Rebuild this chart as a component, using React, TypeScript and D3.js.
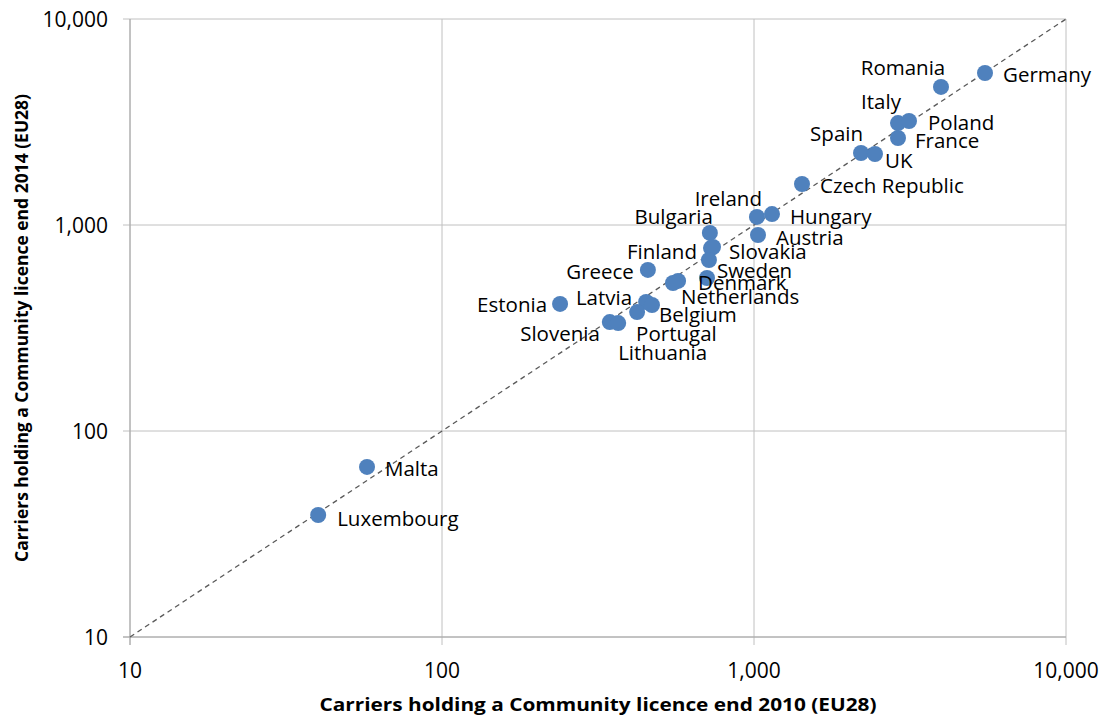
import React from "react";
import * as d3 from "d3";

// Carriers holding a Community licence, EU28 member states
const countries = [
  "Germany", "Romania", "Italy", "Poland", "France", "Spain", "UK",
  "Czech Republic", "Hungary", "Ireland", "Austria", "Bulgaria", "Finland",
  "Slovakia", "Sweden", "Denmark", "Netherlands", "Croatia", "Greece",
  "Estonia", "Latvia", "Belgium", "Portugal", "Slovenia", "Lithuania",
  "Malta", "Luxembourg",
];
const carriers2010 = [
  5500, 3975, 2894, 3139, 2894, 2203, 2442,
  1425, 1142, 1022, 1030, 722, 728,
  739, 717, 707, 571, 550, 457,
  239, 451, 471, 422, 345, 367,
  57.5, 40.1,
];
const carriers2014 = [
  5470, 4680, 3126, 3198, 2645, 2237, 2212,
  1581, 1130, 1094, 894, 915, 773,
  782, 676, 553, 535, 523, 605,
  414, 423, 409, 378, 338, 334,
  66.9, 39.1,
];
const tickValues = [10, 100, 1000, 10000];

// Label placement around each marker: [dx, dy, text-anchor]; Croatia stays unlabelled
const labelPlacement: Record<string, [number, number, string]> = {
  Germany: [18, 1, "start"],
  Romania: [-38, -20, "middle"],
  Italy: [-17, -22, "middle"],
  Poland: [19, 1, "start"],
  France: [17, 2, "start"],
  Spain: [2, -20, "end"],
  UK: [10, 6, "start"],
  "Czech Republic": [18, 1, "start"],
  Hungary: [18, 2, "start"],
  Ireland: [5, -19, "end"],
  Austria: [18, 2, "start"],
  Bulgaria: [3, -17, "end"],
  Finland: [-14, 3, "end"],
  Slovakia: [16, 4, "start"],
  Sweden: [8, 10, "start"],
  Denmark: [-9, 4, "start"],
  Netherlands: [3, 15, "start"],
  Greece: [-14, 1, "end"],
  Estonia: [-13, 0, "end"],
  Latvia: [-14, -5, "end"],
  Belgium: [7, 9, "start"],
  Portugal: [-1, 21, "start"],
  Slovenia: [-10, 11, "end"],
  Lithuania: [0, 29, "start"],
  Malta: [18, 1, "start"],
  Luxembourg: [19, 3, "start"],
};

const W = 1109;
const H = 719;
const left = 130, right = 1066, top = 19, bottom = 637;
const font = "'Open Sans', 'DejaVu Sans', sans-serif";

export default function App() {
  const x = d3.scaleLog().domain([10, 10000]).range([left, right]);
  const y = d3.scaleLog().domain([10, 10000]).range([bottom, top]);
  const fmt = d3.format(",");
  const points = countries.map((c, i) => ({
    name: c,
    cx: x(carriers2010[i]),
    cy: y(carriers2014[i]),
  }));
  const diag = d3.line<number>().x((v) => x(v)).y((v) => y(v))([10, 10000]) || "";

  return (
    <svg
      width={W}
      height={H}
      style={{ position: "absolute", left: 0, top: 0, background: "#fff" }}
      fontFamily={font}
    >
      {/* gridlines */}
      {tickValues.map((t) => (
        <g key={"g" + t}>
          <line x1={x(t)} x2={x(t)} y1={top} y2={bottom + 8} stroke="#c0c0c0" strokeWidth={1} />
          <line x1={left - 7} x2={right} y1={y(t)} y2={y(t)} stroke="#c0c0c0" strokeWidth={1} />
        </g>
      ))}
      {/* axes */}
      <line x1={left} x2={left} y1={top} y2={bottom + 8} stroke="#a6a6a6" strokeWidth={1} />
      <line x1={left - 7} x2={right} y1={bottom} y2={bottom} stroke="#a6a6a6" strokeWidth={1} />

      {/* tick labels */}
      {tickValues.map((t) => (
        <text key={"xt" + t} x={x(t)} y={670} textAnchor="middle" dominantBaseline="central"
          fontSize={21} fill="#000">{fmt(t)}</text>
      ))}
      {tickValues.map((t) => (
        <text key={"yt" + t} x={108} y={y(t)} textAnchor="end" dominantBaseline="central"
          fontSize={21} fill="#000">{fmt(t)}</text>
      ))}

      {/* equality line */}
      <path d={diag} stroke="#595959" strokeWidth={1.3} strokeDasharray="5,4" fill="none" />

      {/* markers */}
      {points.map((p) => (
        <circle key={p.name} cx={p.cx} cy={p.cy} r={8} fill="#4f81bd" />
      ))}

      {/* data labels */}
      {points.map((p) => {
        const pl = labelPlacement[p.name];
        if (!pl) return null;
        return (
          <text key={"l" + p.name} x={p.cx + pl[0]} y={p.cy + pl[1]} textAnchor={pl[2]}
            dominantBaseline="central" fontSize={20.5} fill="#000">{p.name}</text>
        );
      })}

      {/* axis titles */}
      <text x={(left + right) / 2} y={704} textAnchor="middle" dominantBaseline="central"
        fontSize={18} fontWeight="bold" fill="#000" textLength={557} lengthAdjust="spacingAndGlyphs">
        Carriers holding a Community licence end 2010 (EU28)
      </text>
      <text transform={`translate(21, ${(top + bottom) / 2}) rotate(-90)`} textAnchor="middle"
        dominantBaseline="central" fontSize={18} fontWeight="bold" fill="#000"
        textLength={468} lengthAdjust="spacingAndGlyphs">
        Carriers holding a Community licence end 2014 (EU28)
      </text>
    </svg>
  );
}
